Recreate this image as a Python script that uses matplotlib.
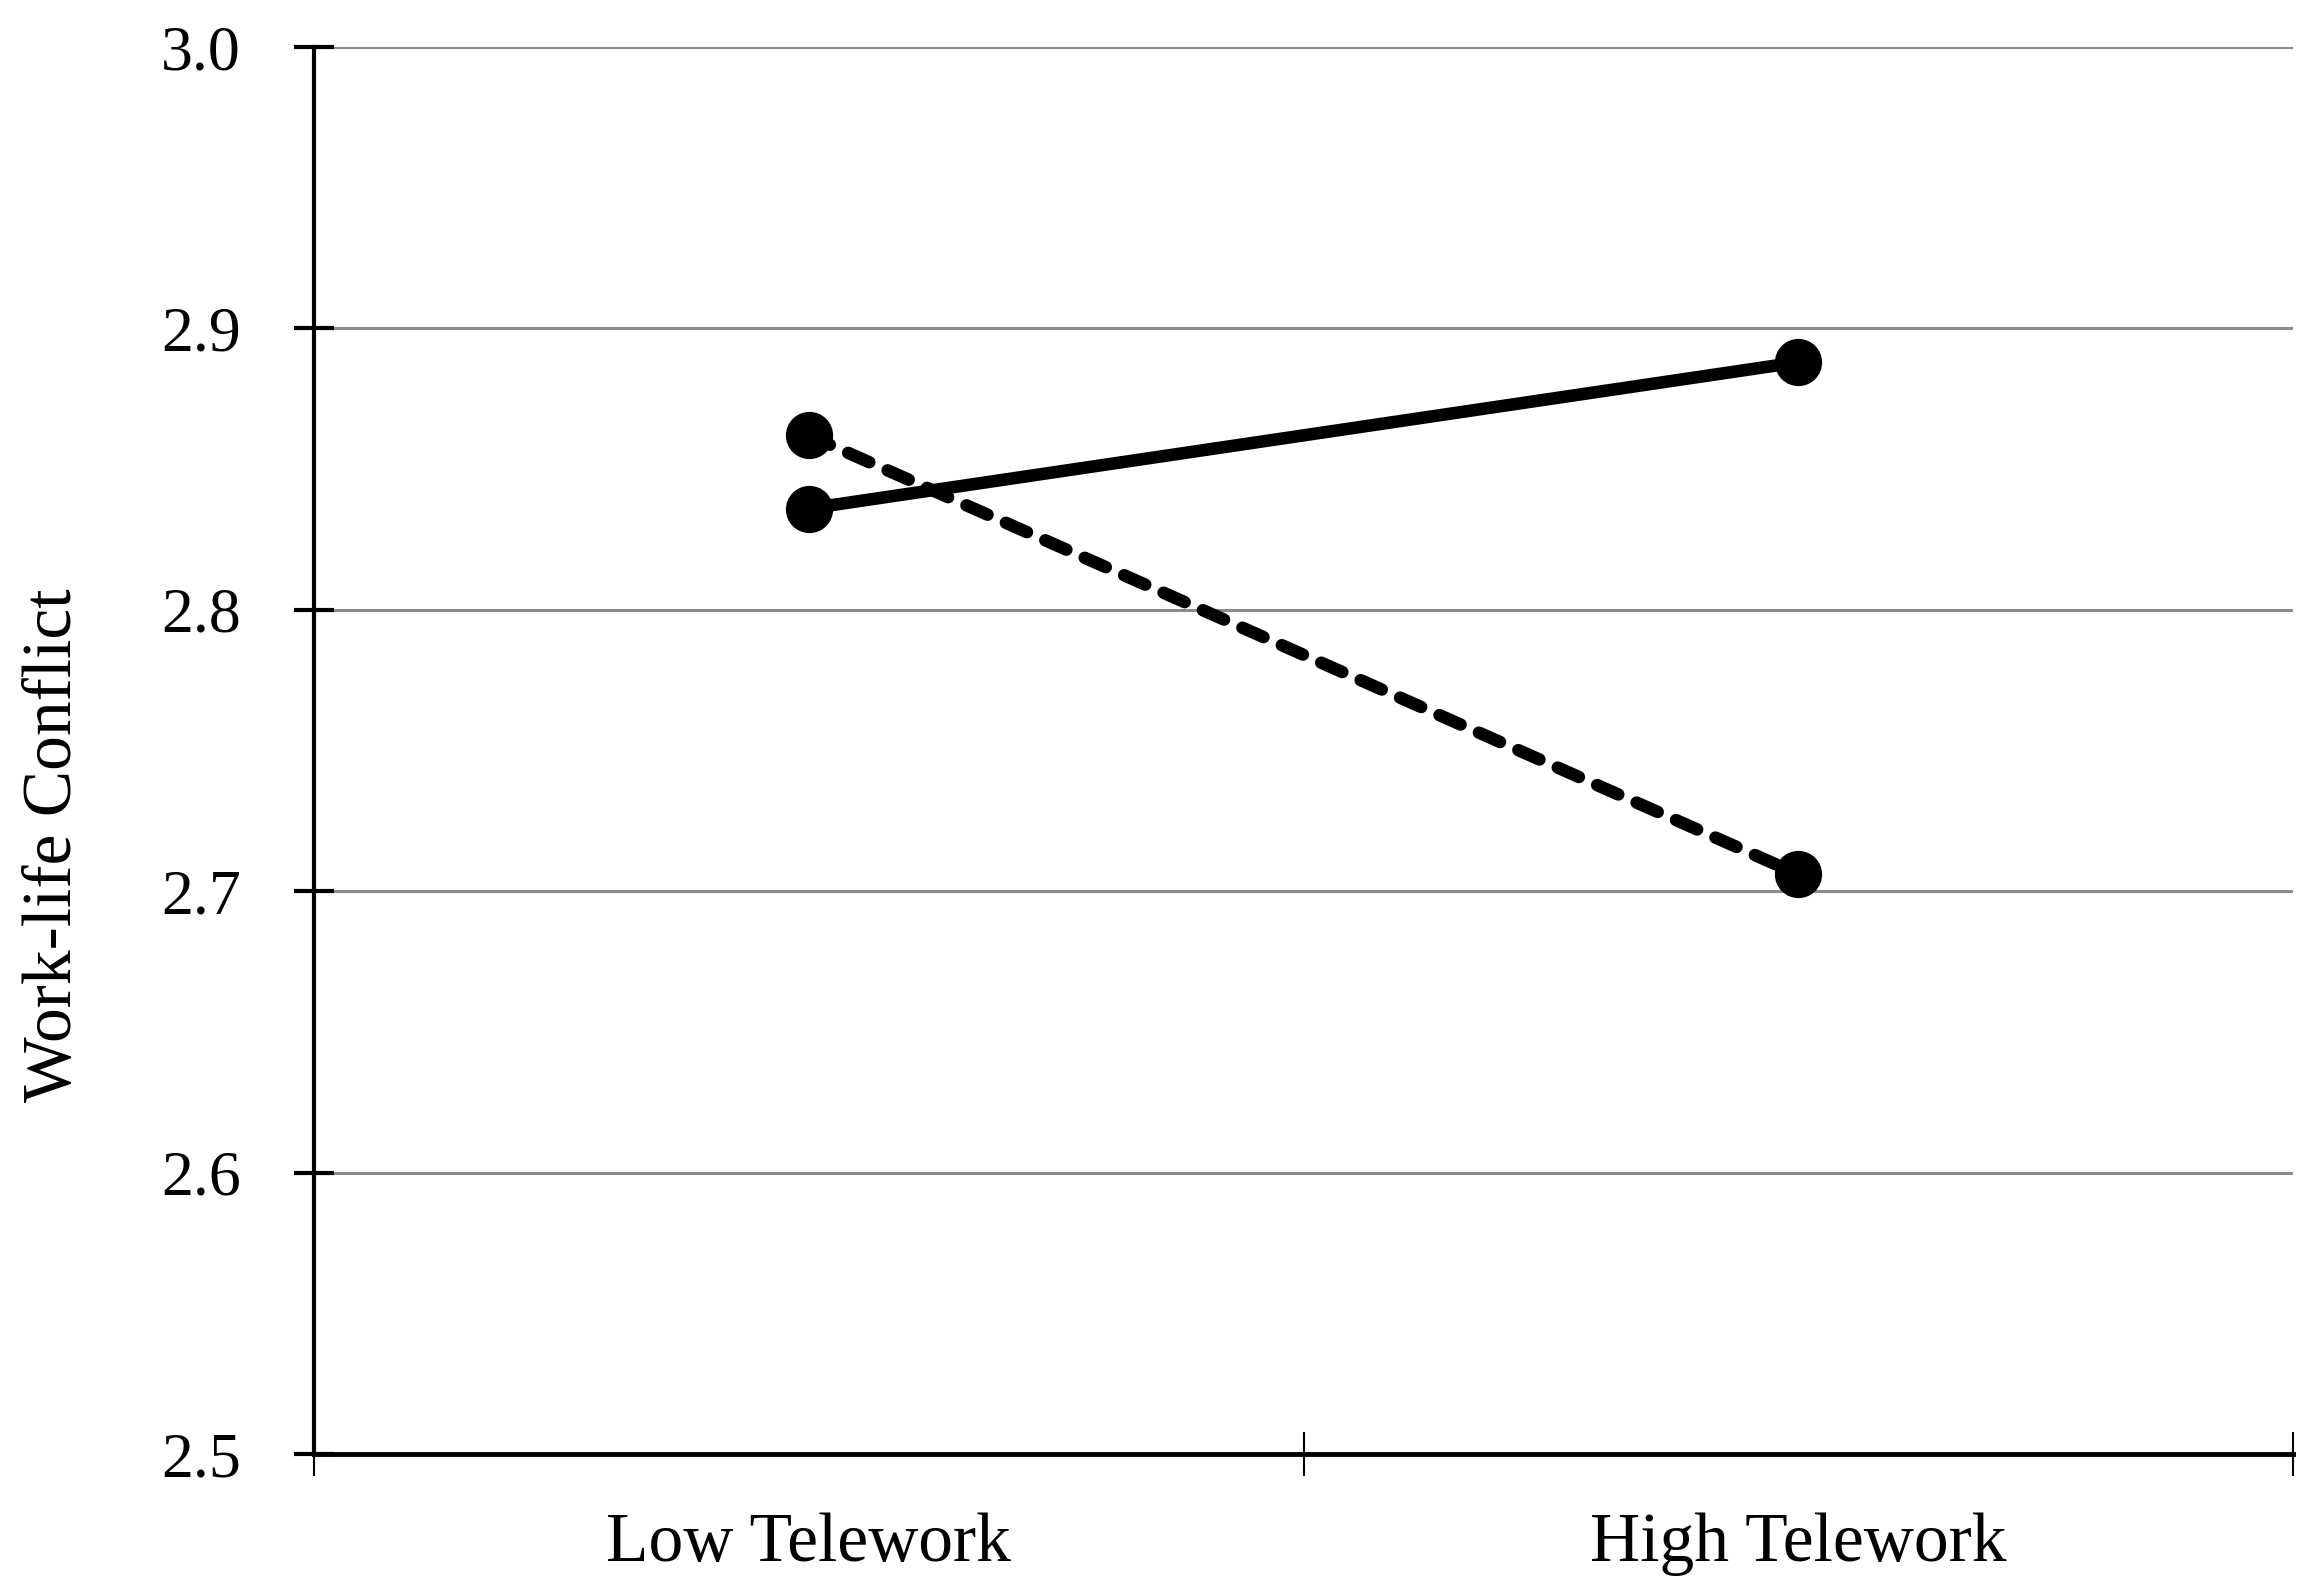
import matplotlib
matplotlib.use("Agg")
import matplotlib.pyplot as plt

# ---------------------------
# Data
# ---------------------------
categories = ["Low Telework", "High Telework"]
solid_vals = [2.836, 2.888]
dashed_vals = [2.862, 2.706]
yticks = [2.5, 2.6, 2.7, 2.8, 2.9, 3.0]

plt.rcParams["font.family"] = ["Liberation Serif", "DejaVu Serif"]

fig = plt.figure(figsize=(23.15, 15.94), dpi=100)
ax = fig.add_axes([0.1356, 0.0878, 0.855, 0.8827])

xpos = [0.5, 1.5]
ax.plot(xpos, solid_vals, color="black", lw=9, marker="o", ms=33,
        solid_capstyle="butt", zorder=3)
ax.plot(xpos, dashed_vals, color="black", lw=9, marker="o", ms=33,
        dashes=(1.85, 1.6), dash_capstyle="round", zorder=3)

ax.set_xlim(0, 2)
ax.set_ylim(2.5, 3.0)
ax.set_yticks(yticks)
ax.set_yticklabels([f"{v:.1f}" for v in yticks])

# group boundaries as major ticks, category names on minor ticks
ax.set_xticks([0, 1, 2])
ax.set_xticklabels(["", "", ""])
ax.set_xticks(xpos, minor=True)
ax.set_xticklabels(categories, minor=True)

ax.tick_params(axis="x", which="major", direction="inout", length=32, width=1.5)
ax.tick_params(axis="x", which="minor", length=0, pad=42, labelsize=50)
ax.tick_params(axis="y", direction="inout", length=29, width=3, pad=38,
               labelsize=46)

ax.grid(axis="y", color="#8c8c8c", lw=2.2)
ax.set_axisbelow(True)

for s in ["top", "right"]:
    ax.spines[s].set_visible(False)
ax.spines["left"].set_linewidth(3)
ax.spines["bottom"].set_linewidth(3.5)

ax.set_ylabel("Work-life Conflict", fontsize=50)
ax.yaxis.set_label_coords(-0.115, 0.433)

fig.savefig("out.png", dpi=100, facecolor="white")
